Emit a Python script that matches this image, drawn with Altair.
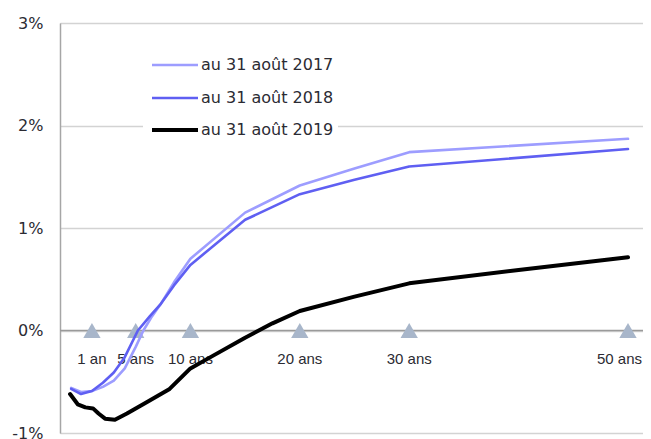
import altair as alt
import pandas as pd

# ---- data ----
series_names = ["au 31 août 2017", "au 31 août 2018", "au 31 août 2019"]
series_colors = ["#9d9dff", "#5f5ff2", "#000000"]
series_widths = [2.6, 2.6, 4]

x_2017 = [-0.9, 0.0, 1.0, 2.0, 3.0, 4.0, 5.0, 5.7, 6.5, 7.3, 8.5, 10.0, 15.0, 20.0, 25.0, 30.0, 50.0]
y_2017 = [-0.56, -0.60, -0.59, -0.55, -0.49, -0.37, -0.16, 0.0, 0.14, 0.26, 0.47, 0.70, 1.15, 1.415, 1.58, 1.74, 1.87]

x_2018 = [-0.9, 0.0, 1.0, 2.0, 3.0, 4.0, 5.2, 6.3, 7.3, 8.5, 10.0, 15.0, 20.0, 25.0, 30.0, 50.0]
y_2018 = [-0.57, -0.62, -0.59, -0.51, -0.41, -0.26, 0.0, 0.14, 0.26, 0.44, 0.64, 1.08, 1.33, 1.47, 1.60, 1.77]

x_2019 = [-1.0, -0.3, 0.4, 1.1, 1.6, 2.2, 3.1, 4.2, 6.0, 8.1, 10.0, 12.0, 15.0, 17.5, 20.0, 25.0, 30.0, 40.0, 50.0]
y_2019 = [-0.62, -0.72, -0.75, -0.76, -0.81, -0.86, -0.87, -0.81, -0.70, -0.57, -0.37, -0.25, -0.07, 0.07, 0.19, 0.33, 0.46, 0.59, 0.715]

maturities = [1, 5, 10, 20, 30, 50]
maturity_labels = ["1 an", "5 ans", "10 ans", "20 ans", "30 ans", "50 ans"]

y_ticks = [-1, 0, 1, 2, 3]

# ---- tables ----
series_x = [x_2017, x_2018, x_2019]
series_y = [y_2017, y_2018, y_2019]
mk = pd.DataFrame({"x": maturities, "label": maturity_labels, "y": [0] * len(maturities)})
zero = pd.DataFrame({"y": [0]})

W, H = 583, 410
xscale = alt.Scale(domain=[-1.92, 51.37], nice=False, zero=False)
yscale = alt.Scale(domain=[-1, 3], nice=False, zero=False)

base_y = alt.Y(
    "y:Q", scale=yscale,
    axis=alt.Axis(values=y_ticks, labelExpr="datum.value + '%'", title=None,
                  tickSize=0, labelPadding=17, labelFont="DejaVu Sans", labelFontSize=16,
                  labelColor="#2b2b33", domainColor="#a6a6a6", domainWidth=1.5,
                  gridColor="#d3d3d3", gridWidth=1.5, labelOverlap=False, labelFlush=False),
)

grid = alt.Chart(zero).mark_rule(opacity=0).encode(y=base_y)

zline = alt.Chart(zero).mark_rule(color="#9a9a9a", strokeWidth=1.5).encode(
    y=alt.Y("y:Q", scale=yscale)
)

tri = alt.Chart(mk).mark_point(shape="triangle-up", filled=True, size=300, color="#a8b6ca", opacity=1).encode(
    x=alt.X("x:Q", scale=xscale, axis=None),
    y=alt.Y("y:Q", scale=yscale),
)

mk_main = mk.iloc[:-1]
mk_last = mk.iloc[-1:]
tlab = alt.Chart(mk_main).mark_text(dy=28, font="Liberation Sans", fontSize=15, color="#2b2b33").encode(
    x=alt.X("x:Q", scale=xscale, axis=None),
    y=alt.Y("y:Q", scale=yscale),
    text="label:N",
)
tlab_last = alt.Chart(mk_last).mark_text(dy=28, dx=14, align="right", font="Liberation Sans",
                                         fontSize=15, color="#2b2b33").encode(
    x=alt.X("x:Q", scale=xscale, axis=None),
    y=alt.Y("y:Q", scale=yscale),
    text="label:N",
)

line_layers = []
for name, xs, ys, col, wd in zip(series_names, series_x, series_y, series_colors, series_widths):
    d = pd.DataFrame({"x": xs, "y": ys, "ordre": list(range(len(xs)))})
    line_layers.append(
        alt.Chart(d).mark_line(color=col, strokeWidth=wd, strokeCap="round", strokeJoin="round").encode(
            x=alt.X("x:Q", scale=xscale, axis=None),
            y=alt.Y("y:Q", scale=yscale),
            order="ordre:Q",
        )
    )

# ---- manual legend (pixel layout inside the plot area) ----
leg_bg = alt.Chart(zero).mark_rect(color="white").encode(
    x=alt.value(83), x2=alt.value(278), y=alt.value(28), y2=alt.value(121)
)
leg_layers = [leg_bg]
row_y = [42, 75, 107]
for name, col, wd, ry in zip(series_names, series_colors, series_widths, row_y):
    leg_layers.append(
        alt.Chart(zero).mark_rule(color=col, strokeWidth=wd).encode(
            x=alt.value(92), x2=alt.value(138), y=alt.value(ry)
        )
    )
    leg_layers.append(
        alt.Chart(zero).mark_text(text=name, align="left", baseline="middle", font="DejaVu Sans",
                                  fontSize=16, color="#2b2b33").encode(
            x=alt.value(141), y=alt.value(ry)
        )
    )

chart = alt.layer(grid, zline, tri, tlab, tlab_last, *line_layers, *leg_layers).properties(
    width=W, height=H,
    autosize=alt.AutoSizeParams(type="none"),
    padding={"left": 52, "top": 15, "right": 0, "bottom": 15},
).configure_view(stroke=None).configure(background="white")

chart.save("out.html", embed_options={"renderer": "svg", "actions": False})
